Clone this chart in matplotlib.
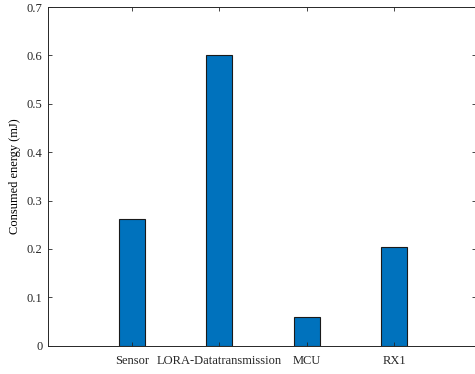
import numpy as np
import matplotlib.pyplot as plt

plt.rcParams['font.family'] = ['Liberation Serif', 'DejaVu Serif']

# energy per stage (mJ)
stages = ['Sensor', 'LORA-Datatransmission', 'MCU', 'RX1']
energy = [0.262, 0.600, 0.060, 0.204]
yticks = [0, 0.1, 0.2, 0.3, 0.4, 0.5, 0.6, 0.7]
ytick_labels = ['0', '0.1', '0.2', '0.3', '0.4', '0.5', '0.6', '0.7']

fig = plt.figure(figsize=(4.75, 3.74), dpi=100)
ax = fig.add_axes([48/475, 1 - 345.7/374, (476.5 - 48)/475, (345.7 - 7)/374])

x = np.arange(1, len(stages) + 1)
ax.bar(x, energy, width=0.3, color='#0072BD', edgecolor='#1a1a1a', linewidth=0.8)

ax.set_xlim(0.043, 4.94)
ax.set_ylim(0, 0.7)
ax.set_xticks(x)
ax.set_xticklabels(stages, fontsize=9.3)
ax.set_yticks(yticks)
ax.set_yticklabels(ytick_labels)
ax.set_ylabel('Consumed energy (mJ)', fontsize=9)

ax.tick_params(direction='in', top=True, right=True, labelsize=9,
               length=3, width=0.6, colors='#262626', pad=4)
ax.tick_params(axis='x', pad=6.5)
for s in ax.spines.values():
    s.set_color('#262626')
    s.set_linewidth(0.7)

fig.savefig('out.png', dpi=100)
